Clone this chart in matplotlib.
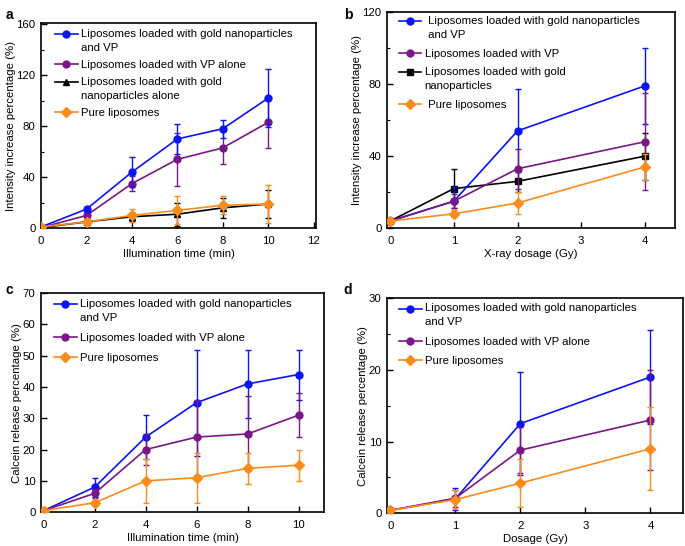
import numpy as np
import matplotlib.pyplot as plt
import matplotlib.transforms as mtransforms
from matplotlib.lines import Line2D
from matplotlib.legend_handler import HandlerLine2D
from matplotlib.ticker import MultipleLocator

plt.rcParams['font.family'] = ['Liberation Sans', 'DejaVu Sans']
plt.rcParams['font.size'] = 8.2

BLUE = '#0a14f5'
PURPLE = '#7a1786'
BLACK = '#000000'
ORANGE = '#fb8c1c'

# Panel a: intensity increase vs illumination time
t_a = [0, 2, 4, 6, 8, 10]
a_gold_vp = [1, 15, 44, 70, 78, 102]
a_gold_vp_err = [1, 2, 12, 12, 7, 23]
a_vp = [0.5, 10, 35, 54, 63, 83]
a_vp_err = [1, 2, 6, 21, 13, 20]
a_gold = [0.5, 5, 9, 11, 16, 19]
a_gold_err = [1, 2, 3, 9, 8, 11]
a_pure = [1, 5, 10, 14, 18, 19]
a_pure_err = [1, 2, 5, 11, 7, 15]

# Panel b: intensity increase vs X-ray dosage
dose_b = [0, 1, 2, 4]
b_gold_vp = [4, 15, 54, 79]
b_gold_vp_err = [1, 8, 23, 21]
b_vp = [4, 15, 33, 48]
b_vp_err = [1, 4, 11, 27]
b_gold = [4, 22, 26, 40]
b_gold_err = [1, 11, 6, 13]
b_pure = [4, 8, 14, 34]
b_pure_err = [1, 2, 6, 7]

# Panel c: calcein release vs illumination time
t_c = [0, 2, 4, 6, 8, 10]
c_gold_vp = [0.5, 8, 24, 35, 41, 44]
c_gold_vp_err = [0.5, 3, 7, 17, 11, 8]
c_vp = [0.5, 6, 20, 24, 25, 31]
c_vp_err = [0.5, 1.5, 5, 12, 12, 7]
c_pure = [0.5, 3, 10, 11, 14, 15]
c_pure_err = [0.5, 1, 7, 8, 5, 5]

# Panel d: calcein release vs dosage
dose_d = [0, 1, 2, 4]
d_gold_vp = [0.4, 2.0, 12.5, 19]
d_gold_vp_err = [0.1, 1.5, 7.2, 6.5]
d_vp = [0.4, 2.1, 8.8, 13]
d_vp_err = [0.1, 1.2, 3.2, 7]
d_pure = [0.4, 1.9, 4.2, 9]
d_pure_err = [0.1, 1.3, 3.3, 5.8]

fig = plt.figure(figsize=(6.85, 5.46), dpi=100)
ax_a = fig.add_axes([0.060, 0.582, 0.401, 0.376])
ax_b = fig.add_axes([0.565, 0.582, 0.420, 0.396])
ax_c = fig.add_axes([0.060, 0.062, 0.413, 0.401])
ax_d = fig.add_axes([0.565, 0.060, 0.432, 0.394])


class HandlerUp(HandlerLine2D):
    # shifts the handle up so it sits on the first line of a two-line label
    def __init__(self, dy, **kw):
        super().__init__(**kw)
        self.dy = dy

    def create_artists(self, legend, orig_handle, xdescent, ydescent,
                       width, height, fontsize, trans):
        trans = mtransforms.Affine2D().translate(0, self.dy) + trans
        return super().create_artists(legend, orig_handle, xdescent, ydescent,
                                      width, height, fontsize, trans)


def series(ax, x, y, err, color, marker, label, z):
    ax.errorbar(x, y, yerr=err, color=color, marker=marker, markersize=5,
                lw=1.2, elinewidth=1.0, capsize=2.2, capthick=1.0, zorder=z)
    return Line2D([], [], color=color, marker=marker, markersize=5, lw=1.2,
                  label=label)


def style(ax, xlim, ylim, xstep, ystep, xlabel, ylabel):
    ax.set_xlim(*xlim)
    ax.set_ylim(*ylim)
    ax.xaxis.set_major_locator(MultipleLocator(xstep))
    ax.yaxis.set_major_locator(MultipleLocator(ystep))
    ax.yaxis.set_minor_locator(MultipleLocator(ystep / 2))
    ax.tick_params(direction='in', length=4, width=1)
    ax.tick_params(axis='x', pad=5.5)
    ax.tick_params(axis='y', pad=4)
    ax.tick_params(which='minor', direction='in', length=2.5, width=0.8)
    ax.set_xlabel(xlabel, labelpad=2.5)
    ax.set_ylabel(ylabel, labelpad=0.5)
    for s in ax.spines.values():
        s.set_linewidth(1.2)


def legend(ax, handles, x, y, spacing):
    hmap = {h: HandlerUp(5.0 if '\n' in h.get_label() else 0) for h in handles}
    leg = ax.legend(handles=handles, handler_map=hmap, loc='upper left',
                    bbox_to_anchor=(x, y), frameon=False, borderpad=0,
                    borderaxespad=0, handlelength=2.0, handletextpad=0.3,
                    labelspacing=spacing, fontsize=8.2)
    for t in leg.get_texts():
        t.set_linespacing(1.5)


# a
h_a = [
    series(ax_a, t_a, a_gold_vp, a_gold_vp_err, BLUE, 'o',
           'Liposomes loaded with gold nanoparticles\nand VP', 4),
    series(ax_a, t_a, a_vp, a_vp_err, PURPLE, 'o',
           'Liposomes loaded with VP alone', 3),
    series(ax_a, t_a, a_gold, a_gold_err, BLACK, '^',
           'Liposomes loaded with gold\nnanoparticles alone', 2),
    series(ax_a, t_a, a_pure, a_pure_err, ORANGE, 'D',
           'Pure liposomes', 5),
]
style(ax_a, (0, 12.1), (0, 161), 2, 40, 'Illumination time (min)',
      'Intensity increase percentage (%)')
legend(ax_a, h_a, 0.05, 0.97, 0.6)

# b
h_b = [
    series(ax_b, dose_b, b_gold_vp, b_gold_vp_err, BLUE, 'o',
           ' Liposomes loaded with gold nanoparticles\n and VP', 4),
    series(ax_b, dose_b, b_vp, b_vp_err, PURPLE, 'o',
           'Liposomes loaded with VP', 5),
    series(ax_b, dose_b, b_gold, b_gold_err, BLACK, 's',
           'Liposomes loaded with gold\nnanoparticles', 3),
    series(ax_b, dose_b, b_pure, b_pure_err, ORANGE, 'D',
           ' Pure liposomes', 6),
]
style(ax_b, (-0.05, 4.47), (0, 120), 1, 40, 'X-ray dosage (Gy)',
      'Intensity increase percentage (%)')
legend(ax_b, h_b, 0.04, 0.98, 0.75)

# c
h_c = [
    series(ax_c, t_c, c_gold_vp, c_gold_vp_err, BLUE, 'o',
           'Liposomes loaded with gold nanoparticles\nand VP', 3),
    series(ax_c, t_c, c_vp, c_vp_err, PURPLE, 'o',
           'Liposomes loaded with VP alone', 4),
    series(ax_c, t_c, c_pure, c_pure_err, ORANGE, 'D',
           'Pure liposomes', 5),
]
style(ax_c, (-0.1, 11), (0, 70), 2, 10, 'Illumination time (min)',
      'Calcein release percentage (%)')
ax_c.yaxis.set_minor_locator(MultipleLocator(10))
legend(ax_c, h_c, 0.045, 0.975, 0.9)

# d
h_d = [
    series(ax_d, dose_d, d_gold_vp, d_gold_vp_err, BLUE, 'o',
           'Liposomes loaded with gold nanoparticles\nand VP', 3),
    series(ax_d, dose_d, d_vp, d_vp_err, PURPLE, 'o',
           'Liposomes loaded with VP alone', 4),
    series(ax_d, dose_d, d_pure, d_pure_err, ORANGE, 'D',
           'Pure liposomes', 5),
]
style(ax_d, (-0.05, 4.5), (0, 30), 1, 10, 'Dosage (Gy)',
      'Calcein release percentage (%)')
legend(ax_d, h_d, 0.04, 0.975, 0.8)

for ax, lab, x, y in [(ax_a, 'a', 0.008, 0.985), (ax_b, 'b', 0.502, 0.985),
                      (ax_c, 'c', 0.008, 0.482), (ax_d, 'd', 0.502, 0.482)]:
    fig.text(x, y, lab, fontsize=10, fontweight='bold', va='top')

fig.savefig('out.png', dpi=100)
